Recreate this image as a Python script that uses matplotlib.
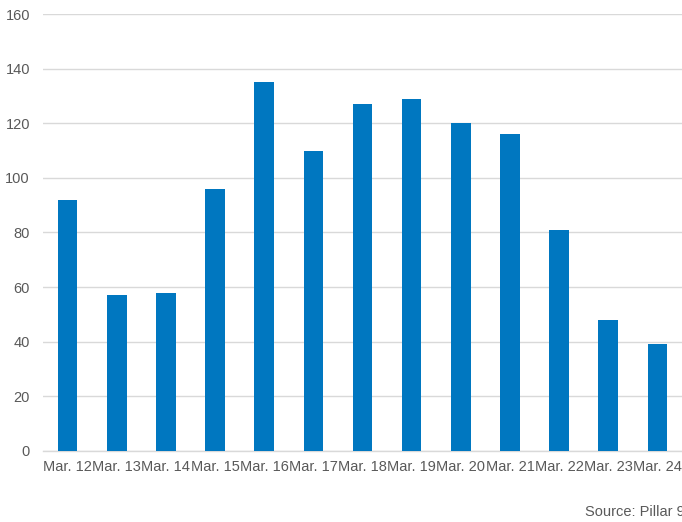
import matplotlib
matplotlib.use("Agg")
from matplotlib import pyplot as plt

plt.rcParams['font.family'] = ['Liberation Sans', 'DejaVu Sans']

dates = ["Mar. 12", "Mar. 13", "Mar. 14", "Mar. 15", "Mar. 16", "Mar. 17", "Mar. 18",
         "Mar. 19", "Mar. 20", "Mar. 21", "Mar. 22", "Mar. 23", "Mar. 24"]
counts = [92, 57, 58, 96, 135, 110, 127, 129, 120, 116, 81, 48, 39]
yticks = [0, 20, 40, 60, 80, 100, 120, 140, 160]

text_color = "#595959"
grid_color = "#d9d9d9"

fig = plt.figure(figsize=(6.82, 5.22), dpi=100)
ax = fig.add_axes([43 / 682, 0.1366, 1 - 43 / 682, 0.9726 - 0.1366])

x = range(len(dates))
ax.bar(x, counts, width=0.4, color="#0077C0", zorder=3)

ax.set_xlim(-0.5, len(dates) - 0.5)
ax.set_ylim(0, 160)
ax.set_yticks(yticks)
ax.set_xticks(list(x))
ax.set_xticklabels(dates)

ax.yaxis.grid(True, color=grid_color, linewidth=1.0, zorder=0)
for side in ["top", "right", "left"]:
    ax.spines[side].set_visible(False)
ax.spines["bottom"].set_color(grid_color)
ax.spines["bottom"].set_linewidth(1.0)

ax.tick_params(axis="both", length=0, labelsize=10.5, labelcolor=text_color)
ax.tick_params(axis="y", pad=9.4)
ax.tick_params(axis="x", pad=7.0)

fig.text(585 / 682, 0.019, "Source: Pillar 9", fontsize=10.5, color=text_color,
         ha="left", va="center")

fig.savefig("out.png", dpi=100)
